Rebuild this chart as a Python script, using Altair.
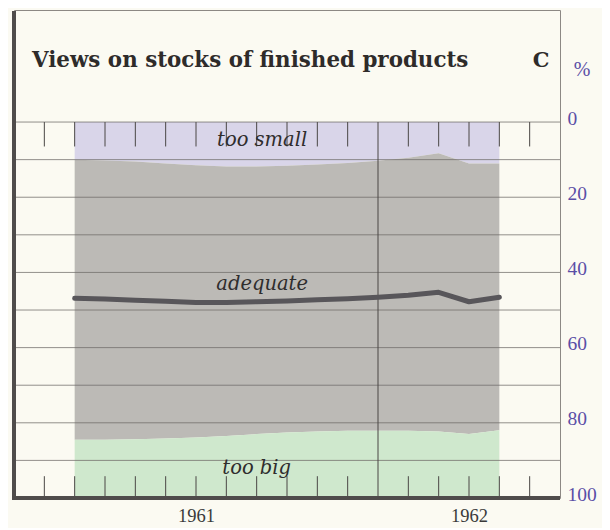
import altair as alt
import pandas as pd

# month index: 0 = 1 Jan 1961 ... 18 = 1 Jul 1962
months = list(range(2, 17))
too_small = [10.0, 10.2, 10.5, 11.0, 11.5, 11.8, 11.8, 11.6, 11.3, 10.9, 10.3, 9.5, 8.3, 11.0, 11.0]
adequate = [74.5, 74.3, 73.9, 73.2, 72.4, 71.7, 71.2, 71.0, 71.0, 71.2, 71.8, 72.6, 74.0, 72.0, 71.0]
too_big = [15.5, 15.5, 15.6, 15.8, 16.1, 16.5, 17.0, 17.4, 17.7, 17.9, 17.9, 17.9, 17.7, 17.0, 18.0]
balance = [46.9, 47.1, 47.4, 47.7, 48.0, 48.0, 47.8, 47.6, 47.3, 47.0, 46.6, 46.1, 45.3, 47.8, 46.6]

categories = ["too small", "adequate", "too big"]
colors = ["#d9d5e9", "#bcbab6", "#cfe8cd"]
year_labels = {6: "1961", 15: "1962"}
y_labels = [0, 20, 40, 60, 80, 100]
grid_values = list(range(0, 101, 10))
tick_months = [m for m in range(1, 18) if m != 12]

TITLE = "Views on stocks of finished products"
SERIF = "DejaVu Serif"
NUM_FONT = "Liberation Serif"
PURPLE = "#5a4ea6"

rows = []
for i, m in enumerate(months):
    for o, (c, vals) in enumerate(zip(categories, [too_small, adequate, too_big])):
        rows.append({"m": m, "v": vals[i], "cat": c, "o": o})
df = pd.DataFrame(rows)

xscale = alt.Scale(domain=[0, 18], nice=False, zero=False)
yscale = alt.Scale(domain=[-29.8, 100], reverse=True, nice=False, zero=False)

label_expr = " : ".join([f"datum.value == {k} ? '{v}'" for k, v in year_labels.items()]) + " : ''"

XAXIS = alt.Axis(
    values=list(year_labels.keys()), labelExpr=label_expr, ticks=False, domain=False,
    grid=False, title=None, labelFont=NUM_FONT, labelFontSize=18.5, labelColor="#3a3a3a",
    labelPadding=8)
YAXIS = alt.Axis(
    orient="right", values=y_labels, ticks=False, domain=False, grid=False, title=None,
    labelFont=NUM_FONT, labelFontSize=19.5, labelColor=PURPLE, labelPadding=7,
    labelOffset=-4, labelAlign="left")


def X(field):
    return alt.X(field, type="quantitative", scale=xscale, axis=XAXIS)


def Y(field, **kw):
    return alt.Y(field, type="quantitative", scale=yscale, axis=YAXIS, **kw)


area = alt.Chart(df).mark_area(interpolate="linear").encode(
    x=X("m"),
    y=Y("v", stack="zero"),
    color=alt.Color("cat:N", scale=alt.Scale(domain=categories, range=colors), legend=None),
    order=alt.Order("o:Q"),
)

grid = alt.Chart(pd.DataFrame({"v": grid_values})).mark_rule(
    color="#6f6b68", strokeWidth=1, opacity=0.75
).encode(y=Y("v"))

tick_df = pd.DataFrame(
    [{"m": m, "v": 0, "b": 6.5} for m in tick_months]
    + [{"m": m, "v": 94.2, "b": 100} for m in tick_months]
    + [{"m": 12, "v": 0, "b": 100}]
)
ticks = alt.Chart(tick_df).mark_rule(color="#4a4745", strokeWidth=1).encode(
    x=X("m"), y=Y("v"), y2="b:Q",
)

line = alt.Chart(pd.DataFrame({"m": months, "v": balance})).mark_line(
    color="#58565a", strokeWidth=5, strokeCap="round", strokeJoin="round"
).encode(x=X("m"), y=Y("v"))

label_df = pd.DataFrame({
    "t": categories,
    "m": [8.18, 8.18, 8.0],
    "v": [4.8, 43.1, 92.0],
})
labels = alt.Chart(label_df).mark_text(
    font=SERIF, fontStyle="italic", fontSize=19.5, color="#2f2d2d", baseline="middle", align="center"
).encode(x=X("m"), y=Y("v"), text="t:N")

# thick left and bottom frame lines
frame_left = alt.Chart(pd.DataFrame({"m": [0]})).mark_rule(color="#4f4c4b", strokeWidth=4).encode(
    x=X("m"), y=alt.value(1), y2=alt.value(490))
frame_bottom = alt.Chart(pd.DataFrame({"v": [100]})).mark_rule(color="#4f4c4b", strokeWidth=4).encode(
    y=Y("v"), x=alt.value(-2), x2=alt.value(546))

title = alt.Chart(pd.DataFrame({"t": [TITLE]})).mark_text(
    font=SERIF, fontWeight="bold", fontSize=21.4, color="#2e2b2a", align="left", baseline="middle"
).encode(x=alt.value(18), y=alt.value(51), text="t:N")
letter = alt.Chart(pd.DataFrame({"t": ["C"]})).mark_text(
    font=SERIF, fontWeight="bold", fontSize=21, color="#2e2b2a", align="center", baseline="middle"
).encode(x=alt.value(527), y=alt.value(51), text="t:N")
pct = alt.Chart(pd.DataFrame({"t": ["%"]})).mark_text(
    font=NUM_FONT, fontSize=20, color=PURPLE, align="center", baseline="middle"
).encode(x=alt.value(568), y=alt.value(60), text="t:N")

chart = alt.layer(area, grid, ticks, line, labels, frame_left, frame_bottom, title, letter, pct).properties(
    width=546, height=488,
    padding={"left": 6, "top": 2, "right": 42, "bottom": 30},
    autosize=alt.AutoSizeParams(type="none"),
    background="#fbfaf2",
).configure_view(stroke="#8c8884", strokeWidth=1)

chart.save("out.html", embed_options={"renderer": "svg", "actions": False})
